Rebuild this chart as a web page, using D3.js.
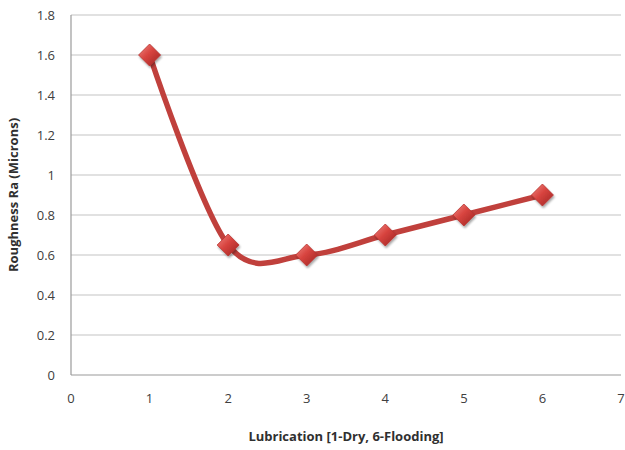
<!DOCTYPE html>
<html>
<head>
<meta charset="utf-8">
<script src="https://cdn.jsdelivr.net/npm/d3@7"></script>
<style>
  body { margin: 0; background: #fff; }
  svg { display: block; }
  text { font-family: "Open Sans", "Liberation Sans", sans-serif; }
</style>
</head>
<body>
<svg id="chart" width="625" height="450"></svg>
<script>
// Surface roughness against lubrication level
const lubrication = [1, 2, 3, 4, 5, 6];
const roughness = [1.6, 0.65, 0.6, 0.7, 0.8, 0.9];
const xTicks = [0, 1, 2, 3, 4, 5, 6, 7];
const yTicks = [0, 0.2, 0.4, 0.6, 0.8, 1, 1.2, 1.4, 1.6, 1.8];
const xTitle = "Lubrication [1-Dry, 6-Flooding]";
const yTitle = "Roughness Ra (Microns)";

const svg = d3.select("#chart");
const margin = { left: 71, right: 4, top: 15, bottom: 75 };
const W = 625, H = 450;

const x = d3.scaleLinear().domain([0, 7]).range([margin.left, W - margin.right]);
const y = d3.scaleLinear().domain([0, 1.8]).range([H - margin.bottom, margin.top]);

// gradient for the diamond markers
const defs = svg.append("defs");
const grad = defs.append("linearGradient").attr("id", "mk")
  .attr("x1", "0").attr("y1", "0").attr("x2", "1").attr("y2", "1");
grad.append("stop").attr("offset", "0").attr("stop-color", "#f08a86");
grad.append("stop").attr("offset", "0.45").attr("stop-color", "#d8443f");
grad.append("stop").attr("offset", "1").attr("stop-color", "#9c2320");
const shadow = defs.append("filter").attr("id", "sh").attr("x", "-50%").attr("y", "-50%").attr("width", "200%").attr("height", "200%");
shadow.append("feDropShadow").attr("dx", 1).attr("dy", 2).attr("stdDeviation", 1.2)
  .attr("flood-color", "#000").attr("flood-opacity", 0.35);

// horizontal gridlines
svg.append("g")
  .selectAll("line").data(yTicks).join("line")
  .attr("x1", x(0)).attr("x2", x(7))
  .attr("y1", d => y(d)).attr("y2", d => y(d))
  .attr("stroke", d => d === 0 ? "#9a9a9a" : "#c4c4c4")
  .attr("stroke-width", 1.2);

// vertical axis line
svg.append("line")
  .attr("x1", x(0)).attr("x2", x(0))
  .attr("y1", y(1.8)).attr("y2", y(0))
  .attr("stroke", "#9a9a9a").attr("stroke-width", 1.2);

// y tick labels
svg.append("g")
  .selectAll("text").data(yTicks).join("text")
  .attr("x", x(0) - 16).attr("y", d => y(d))
  .attr("dy", "0.35em").attr("text-anchor", "end")
  .attr("font-size", 13).attr("fill", "#404040")
  .text(d => d3.format("~g")(d));

// x tick labels
svg.append("g")
  .selectAll("text").data(xTicks).join("text")
  .attr("x", d => x(d)).attr("y", y(0) + 28)
  .attr("text-anchor", "middle")
  .attr("font-size", 13).attr("fill", "#404040")
  .text(d => d);

// axis titles
svg.append("text")
  .attr("x", 346).attr("y", 441)
  .attr("text-anchor", "middle").attr("font-size", 13).attr("font-weight", "bold")
  .attr("fill", "#303030").text(xTitle);
svg.append("text")
  .attr("transform", `translate(18, ${y(0.9)}) rotate(-90)`)
  .attr("text-anchor", "middle").attr("font-size", 13).attr("font-weight", "bold")
  .attr("fill", "#303030").text(yTitle);

const pts = lubrication.map((v, i) => [v, roughness[i]]);

// smoothed series line
svg.append("path")
  .datum(pts)
  .attr("fill", "none")
  .attr("stroke", "#c0403c")
  .attr("stroke-width", 5.5)
  .attr("stroke-linejoin", "round")
  .attr("stroke-linecap", "round")
  .attr("d", d3.line().x(d => x(d[0])).y(d => y(d[1])).curve(d3.curveCardinal.tension(0)));

// diamond markers
svg.append("g")
  .selectAll("path").data(pts).join("path")
  .attr("transform", d => `translate(${x(d[0])},${y(d[1])})`)
  .attr("d", "M0,-11L11,0L0,11L-11,0Z")
  .attr("fill", "url(#mk)")
  .attr("stroke", "#b8322e").attr("stroke-width", 0.8)
  .attr("filter", "url(#sh)");
</script>
</body>
</html>
